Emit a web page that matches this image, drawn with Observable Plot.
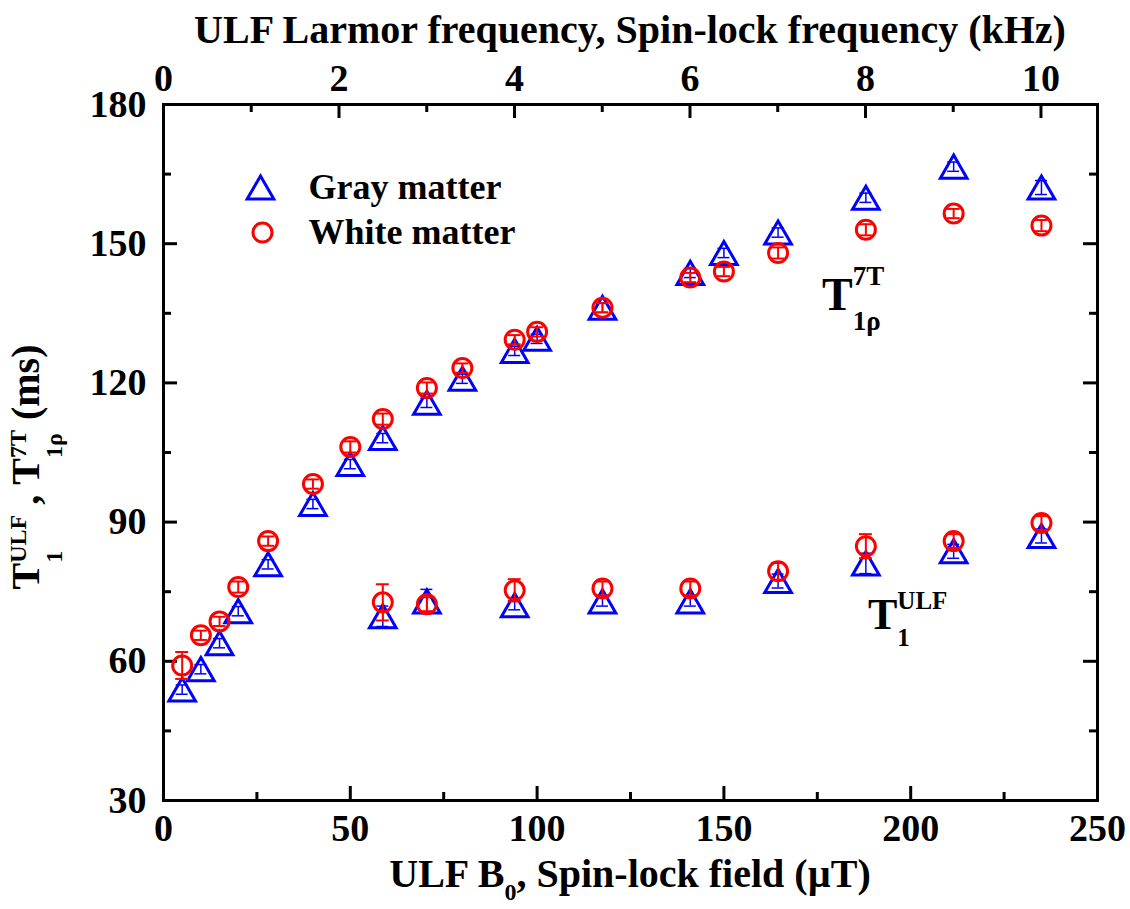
<!DOCTYPE html>
<html><head><meta charset="utf-8">
<script src="https://cdn.jsdelivr.net/npm/d3@7"></script>
<script src="https://cdn.jsdelivr.net/npm/@observablehq/plot@0.6"></script>
<style>body{margin:0;background:#fff} svg{display:block}</style>
</head><body><div id="chart"></div>
<script>
// ---- data ----
const fieldRho = [5, 10, 15, 20, 28, 40, 50, 58.7, 70.5, 80, 94, 100, 117.5, 141, 150, 164.5, 188, 211.5, 235];
const grayRho = [53.9, 58.3, 63.9, 70.8, 80.9, 93.9, 102.5, 108.1, 115.7, 120.9, 126.9, 129.5, 136.2, 143.7, 148.0, 152.4, 159.9, 166.6, 162.1];
const grayRhoErr = [1, 1, 1, 1, 1, 1, 1, 1, 1, 1, 1, 1, 1, 1, 1, 1, 1, 1, 1.5];
const whiteRho = [59.1, 65.6, 68.6, 76.0, 85.9, 98.2, 106.2, 112.2, 118.9, 123.2, 129.3, 131.0, 136.2, 142.7, 144.0, 148.0, 153.0, 156.5, 153.9];
const whiteRhoErr = [2.9, 1, 1, 1.2, 1, 1, 1.2, 1.2, 1.2, 1, 1, 1, 1, 1, 1, 1.2, 1.2, 1, 1.2];
const fieldULF = [58.7, 70.5, 94, 117.5, 141, 164.5, 188, 211.5, 235];
const grayULF = [69.7, 72.9, 72.1, 72.9, 72.9, 77.3, 81.1, 83.7, 87.0];
const grayULFErr = [2.2, 2.6, 1, 1, 1, 1.5, 2.2, 1.5, 1.5];
const whiteULF = [72.7, 72.3, 75.3, 75.7, 75.7, 79.4, 84.8, 85.9, 89.8];
const whiteULFErr = [3.9, 1.5, 2.4, 1.5, 1.5, 1.8, 2.6, 1.5, 1.5];

const xMajor = [0, 50, 100, 150, 200, 250];
const xMinor = [25, 75, 125, 175, 225];
const yMajor = [30, 60, 90, 120, 150, 180];
const yMinor = [45, 75, 105, 135, 165];
const kHzMajor = [0, 2, 4, 6, 8, 10];
const kHzMinor = [1, 3, 5, 7, 9];
const gammaHzPerUT = 42.577; // proton gyromagnetic ratio, Hz per µT

const seriesNames = ["Gray matter", "White matter"];
const annoRho = {x: 176.4, y: 135.5};
const annoULF = {x: 188.7, y: 66.9};

// ---- layout ----
const W = 1130, H = 909, mL = 163, mR = 33, mT = 104, mB = 109;
const innerW = W - mL - mR, innerH = H - mT - mB;
const FONT = "'Liberation Serif', 'Times New Roman', serif";
const BLUE = "#0000ff", RED = "#ff0000";
const MAJ = 14, MIN = 8;
const TRI_DY = 3.8; // centre the triangle's box on the data point

const rho = fieldRho.map((x, i) => ({x, g: grayRho[i], ge: grayRhoErr[i], w: whiteRho[i], we: whiteRhoErr[i]}));
const ulf = fieldULF.map((x, i) => ({x, g: grayULF[i], ge: grayULFErr[i], w: whiteULF[i], we: whiteULFErr[i]}));
const all = rho.concat(ulf);
const kToUT = k => k * 1000 / gammaHzPerUT;

function errMarks(data, v, e, color, sw, cap) {
  return [
    Plot.ruleX(data, {x: "x", y1: d => d[v] - d[e], y2: d => d[v] + d[e], stroke: color, strokeWidth: sw}),
    Plot.ruleY(data, {x1: "x", x2: "x", y: d => d[v] + d[e], insetLeft: -cap, insetRight: -cap, stroke: color, strokeWidth: sw}),
    Plot.ruleY(data, {x1: "x", x2: "x", y: d => d[v] - d[e], insetLeft: -cap, insetRight: -cap, stroke: color, strokeWidth: sw})
  ];
}
const tickLab = {fontFamily: FONT, fontWeight: "bold", fontSize: 38, fill: "black"};
const legLab = {fontFamily: FONT, fontWeight: "bold", fontSize: 36, fill: "black"};

const plot = Plot.plot({
  width: W, height: H,
  marginLeft: mL, marginRight: mR, marginTop: mT, marginBottom: mB,
  x: {domain: [0, 250], axis: null},
  y: {domain: [30, 180], axis: null},
  style: {fontFamily: FONT, background: "white"},
  marks: [
    Plot.ruleX(xMajor, {x: d => d, insetTop: innerH - MAJ, stroke: "black", strokeWidth: 3}),
    Plot.ruleX(xMinor, {x: d => d, insetTop: innerH - MIN, stroke: "black", strokeWidth: 3}),
    Plot.ruleX(kHzMajor, {x: kToUT, insetBottom: innerH - MAJ, stroke: "black", strokeWidth: 3}),
    Plot.ruleX(kHzMinor, {x: kToUT, insetBottom: innerH - MIN, stroke: "black", strokeWidth: 3}),
    Plot.ruleY(yMajor, {y: d => d, insetRight: innerW - MAJ, stroke: "black", strokeWidth: 3}),
    Plot.ruleY(yMinor, {y: d => d, insetRight: innerW - MIN, stroke: "black", strokeWidth: 3}),
    Plot.ruleY(yMajor, {y: d => d, insetLeft: innerW - MAJ, stroke: "black", strokeWidth: 3}),
    Plot.ruleY(yMinor, {y: d => d, insetLeft: innerW - MIN, stroke: "black", strokeWidth: 3}),
    Plot.frame({stroke: "black", strokeWidth: 3}),
    Plot.text(xMajor, {x: d => d, frameAnchor: "bottom", dy: 28.5, lineAnchor: "middle", text: d => String(d), ...tickLab}),
    Plot.text(kHzMajor, {x: kToUT, frameAnchor: "top", dy: -26, lineAnchor: "middle", text: d => String(d), ...tickLab}),
    Plot.text(yMajor, {y: d => d, frameAnchor: "left", dx: -17, textAnchor: "end", lineAnchor: "middle", text: d => String(d), ...tickLab}),
    Plot.dot(all, {x: "x", y: "g", symbol: "triangle", r: 9.9, dy: TRI_DY, stroke: BLUE, strokeWidth: 3, fill: "none"}),
    ...errMarks(all, "g", "ge", BLUE, 1.5, 6),
    Plot.dot(all, {x: "x", y: "w", symbol: "circle", r: 9.5, stroke: RED, strokeWidth: 3, fill: "none"}),
    ...errMarks(all, "w", "we", RED, 2, 6.5),
    Plot.dot([seriesNames[0]], {frameAnchor: "top-left", dx: 260 - mL, dy: 187 - mT + TRI_DY, symbol: "triangle", r: 9.9, stroke: BLUE, strokeWidth: 3, fill: "none"}),
    Plot.dot([seriesNames[1]], {frameAnchor: "top-left", dx: 262 - mL, dy: 232 - mT, symbol: "circle", r: 9.5, stroke: RED, strokeWidth: 3, fill: "none"}),
    Plot.text([seriesNames[0]], {frameAnchor: "top-left", dx: 308 - mL, dy: 187 - mT, textAnchor: "start", lineAnchor: "middle", text: d => d, ...legLab}),
    Plot.text([seriesNames[1]], {frameAnchor: "top-left", dx: 308 - mL, dy: 232 - mT, textAnchor: "start", lineAnchor: "middle", text: d => d, ...legLab})
  ]
});
document.getElementById("chart").appendChild(plot);

// ---- rich text (sub/superscripts) ----
const svg = d3.select(plot);
function rich(parent, pieces) {
  const g = parent.append("g").attr("font-family", FONT).attr("font-weight", "bold").attr("fill", "black").attr("text-anchor", "start");
  let cx = 0;
  for (const p of pieces) {
    if (p.t !== undefined) {
      const t = g.append("text").attr("x", cx).attr("y", p.dy || 0).attr("font-size", p.size).attr("text-anchor", "start").style("white-space", "pre").text(p.t);
      cx += t.node().getComputedTextLength();
    } else {
      let w = 0;
      if (p.sup) { const t = g.append("text").attr("x", cx).attr("y", p.supDy).attr("font-size", p.size).attr("text-anchor", "start").text(p.sup); w = Math.max(w, t.node().getComputedTextLength()); }
      if (p.sub) { const t = g.append("text").attr("x", cx).attr("y", p.subDy).attr("font-size", p.size).attr("text-anchor", "start").text(p.sub); w = Math.max(w, t.node().getComputedTextLength()); }
      cx += w;
    }
  }
  return {g, width: cx};
}
function place(pieces, x, y, anchor = "start", rotate = 0) {
  const outer = svg.append("g").attr("transform", `translate(${x},${y}) rotate(${rotate})`);
  const r = rich(outer, pieces);
  const s = anchor === "middle" ? -r.width / 2 : anchor === "end" ? -r.width : 0;
  r.g.attr("transform", `translate(${s},0)`);
}
const sx = plot.scale("x"), sy = plot.scale("y");
const cxPlot = mL + innerW / 2;

place([{t: "ULF Larmor frequency, Spin-lock frequency (kHz)", size: 40}], cxPlot, 43, "middle");
place([{t: "ULF B", size: 40}, {sub: "0", size: 24, subDy: 13}, {t: ", Spin-lock field (\u00B5T)", size: 40}], cxPlot, 887, "middle");
place([
  {t: "T", size: 40}, {sup: "ULF", sub: "1", size: 24, supDy: -13, subDy: 23},
  {t: " , ", size: 40},
  {t: "T", size: 40}, {sup: "7T", sub: "1\u03C1", size: 24, supDy: -13, subDy: 23},
  {t: " (ms)", size: 40}
], 39, 467, "middle", -90);
place([{t: "T", size: 46}, {sup: "7T", sub: "1\u03C1", size: 27, supDy: -25, subDy: 20}], sx.apply(annoRho.x), sy.apply(annoRho.y));
place([{t: "T", size: 44}, {sup: "ULF", sub: "1", size: 25, supDy: -20, subDy: 17}], sx.apply(annoULF.x), sy.apply(annoULF.y));
</script>
</body></html>
